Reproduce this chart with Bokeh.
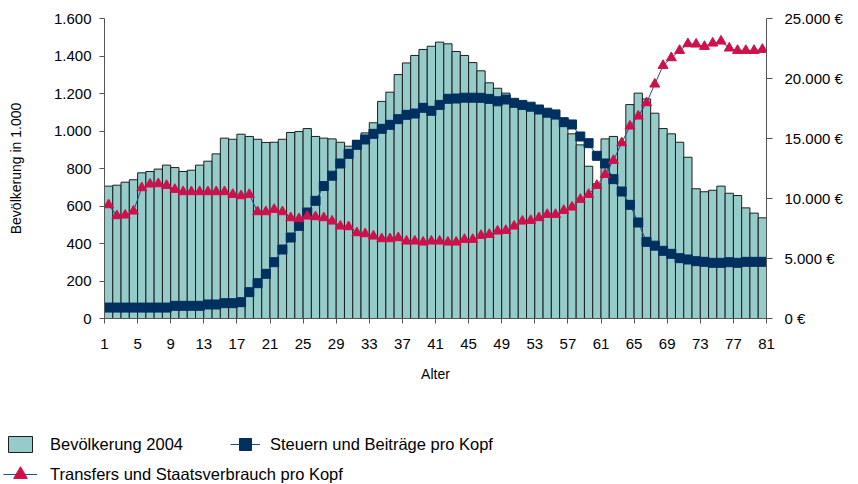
from bokeh.plotting import figure
from bokeh.layouts import column
from bokeh.models import Range1d, LinearAxis, FixedTicker, Legend, LegendItem, ColumnDataSource
from bokeh.embed import file_html
from bokeh.resources import INLINE

# ---- data ----
alter = list(range(1, 81))
bevoelkerung = [706, 711, 727, 740, 777, 784, 797, 818, 805, 784,
                791, 818, 839, 878, 962, 956, 983, 971, 956, 939,
                940, 956, 992, 997, 1013, 971, 962, 958, 940, 919,
                950, 990, 1044, 1158, 1207, 1301, 1363, 1403, 1435, 1452,
                1474, 1465, 1424, 1403, 1365, 1321, 1257, 1228, 1202, 1168,
                1150, 1138, 1120, 1108, 1065, 1040, 985, 926, 812, 718,
                958, 971, 940, 1141, 1202, 1171, 1095, 1013, 985, 940,
                860, 692, 676, 684, 706, 668, 656, 590, 562, 537]
steuern = [910, 910, 910, 910, 910, 910, 910, 910, 1056, 1056,
           1056, 1056, 1167, 1167, 1278, 1278, 1361, 2194, 2944, 3722,
           4694, 5750, 6750, 7722, 8833, 9806, 11040, 11900, 12917, 13722,
           14472, 14917, 15389, 15806, 16139, 16611, 16972, 17083, 17556, 17306,
           17800, 18306, 18333, 18400, 18400, 18389, 18300, 18100, 18250, 17972,
           17800, 17650, 17417, 17150, 17010, 16361, 16170, 15167, 14611, 13556,
           12917, 11611, 10583, 9472, 8000, 6389, 6070, 5639, 5389, 5028,
           4917, 4778, 4722, 4639, 4639, 4694, 4639, 4722, 4722, 4722]
transfers = [9472, 8556, 8611, 8944, 10889, 11194, 11222, 11083, 10750, 10556,
             10556, 10556, 10556, 10556, 10556, 10333, 10222, 10333, 8889, 8889,
             9083, 8889, 8389, 8306, 8528, 8472, 8389, 8111, 7694, 7639,
             7139, 7056, 6861, 6639, 6639, 6722, 6444, 6444, 6361, 6444,
             6444, 6361, 6361, 6583, 6583, 6917, 7000, 7278, 7333, 7694,
             8111, 8167, 8389, 8667, 8667, 9000, 9278, 9917, 10333, 11083,
             12000, 13167, 14639, 16028, 16861, 17972, 19528, 21083, 21722, 22333,
             22889, 22861, 22667, 22944, 23111, 22528, 22333, 22333, 22333, 22417]
x_tick_labels = [str(v) for v in range(1, 82, 4)]
left_ticks = list(range(0, 1601, 200))
right_ticks = list(range(0, 25001, 5000))

FONT = "Liberation Sans"
AX = "#555555"
BAR_FILL = "#95CBC8"
BAR_LINE = "#1e1e1e"
LINE_COL = "#1F4E8C"
SQ_COL = "#00305F"
TRI_COL = "#D0104A"

src = ColumnDataSource(dict(
    x=[a - 0.5 for a in alter],
    bev=bevoelkerung,
    st=steuern,
    tr=transfers,
))

p = figure(width=858, height=400, output_backend="svg", toolbar_location=None,
           x_range=Range1d(0, 80), y_range=Range1d(0, 1600),
           min_border_left=104, min_border_right=92, min_border_top=18,
           min_border_bottom=82)
p.frame_align = False
p.extra_y_ranges = {"right": Range1d(0, 25000)}
p.grid.visible = False
p.outline_line_color = None
p.background_fill_color = "white"

p.vbar(x="x", top="bev", width=1.0, source=src,
       fill_color=BAR_FILL, line_color=BAR_LINE, line_width=1)
p.line("x", "st", source=src, y_range_name="right", line_color=LINE_COL, line_width=1)
p.scatter("x", "st", source=src, y_range_name="right", marker="square",
          size=9, fill_color=SQ_COL, line_color=SQ_COL)
p.line("x", "tr", source=src, y_range_name="right", line_color=LINE_COL, line_width=1)
p.scatter("x", "tr", source=src, y_range_name="right", marker="triangle",
          size=10, fill_color=TRI_COL, line_color=TRI_COL)

# x axis
xa = p.xaxis[0]
xa.ticker = FixedTicker(ticks=list(range(0, 81, 4)))
xa.major_label_overrides = {t: lab for t, lab in zip(range(0, 81, 4), x_tick_labels)}
xa.axis_label = "Alter"
xa.minor_tick_line_color = None

# left axis
ya = p.yaxis[0]
ya.ticker = FixedTicker(ticks=left_ticks)
ya.major_label_overrides = {t: f"{t:,}".replace(",", ".") for t in left_ticks}
ya.axis_label = "Bevölkerung in 1.000"
ya.minor_tick_line_color = None

# right axis
ra = LinearAxis(y_range_name="right", ticker=FixedTicker(ticks=right_ticks))
ra.major_label_overrides = {t: f"{t:,}".replace(",", ".") + " €" for t in right_ticks}
ra.minor_tick_line_color = None
p.add_layout(ra, "right")

for ax in (xa, ya, ra):
    ax.axis_line_color = AX
    ax.major_tick_line_color = AX
    ax.major_tick_out = 5
    ax.major_tick_in = 0
    ax.major_label_text_font = FONT
    ax.major_label_text_font_size = "15px"
    ax.major_label_text_color = "black"
    ax.axis_label_text_font = FONT
    ax.axis_label_text_font_size = "14px"
    ax.axis_label_text_font_style = "normal"
    ax.axis_label_text_color = "black"
ra.major_tick_out = 6
ra.major_label_standoff = 12
ya.major_label_standoff = 8
xa.major_label_standoff = 15
xa.axis_label_standoff = 14
ya.axis_label_standoff = 27

# ---- legend strip (separate figure below; its series copies lie far outside its view) ----
lg = figure(width=858, height=84, output_backend="svg", toolbar_location=None,
            x_range=Range1d(10000, 10001), y_range=Range1d(100000, 100001),
            x_axis_type=None, y_axis_type=None,
            min_border_left=0, min_border_right=0, min_border_top=0, min_border_bottom=0)
lg.frame_align = False
lg.grid.visible = False
lg.outline_line_color = None
lg.background_fill_color = "white"
lg.border_fill_color = "white"
r_bar = lg.vbar(x="x", top="bev", width=1.0, source=src,
                fill_color=BAR_FILL, line_color=BAR_LINE, line_width=1)
r_stl = lg.line("x", "st", source=src, line_color=LINE_COL, line_width=1)
r_stm = lg.scatter("x", "st", source=src, marker="square",
                   fill_color=SQ_COL, line_color=SQ_COL)
r_trl = lg.line("x", "tr", source=src, line_color=LINE_COL, line_width=1)
r_trm = lg.scatter("x", "tr", source=src, marker="triangle",
                   fill_color=TRI_COL, line_color=TRI_COL)


def mk_legend(label, renderers, loc, standoff, gw, gh):
    return Legend(items=[LegendItem(label=label, renderers=renderers)],
                  location=loc, orientation="horizontal",
                  glyph_width=gw, glyph_height=gh, label_standoff=standoff,
                  padding=0, margin=0, spacing=0,
                  border_line_color=None, background_fill_alpha=0,
                  label_text_font=FONT, label_text_font_size="16.5px",
                  label_text_color="black")


lg.add_layout(mk_legend("Bevölkerung 2004", [r_bar], (5, 30), 15, 30, 20), "center")
lg.add_layout(mk_legend("Steuern und Beiträge pro Kopf", [r_stl, r_stm], (230, 23), 10, 30, 34), "center")
lg.add_layout(mk_legend("Transfers und Staatsverbrauch pro Kopf", [r_trl, r_trm], (3, -10), 13, 34, 40), "center")

layout = column(p, lg, spacing=0)
open("out.html", "w").write(file_html(layout, INLINE))
